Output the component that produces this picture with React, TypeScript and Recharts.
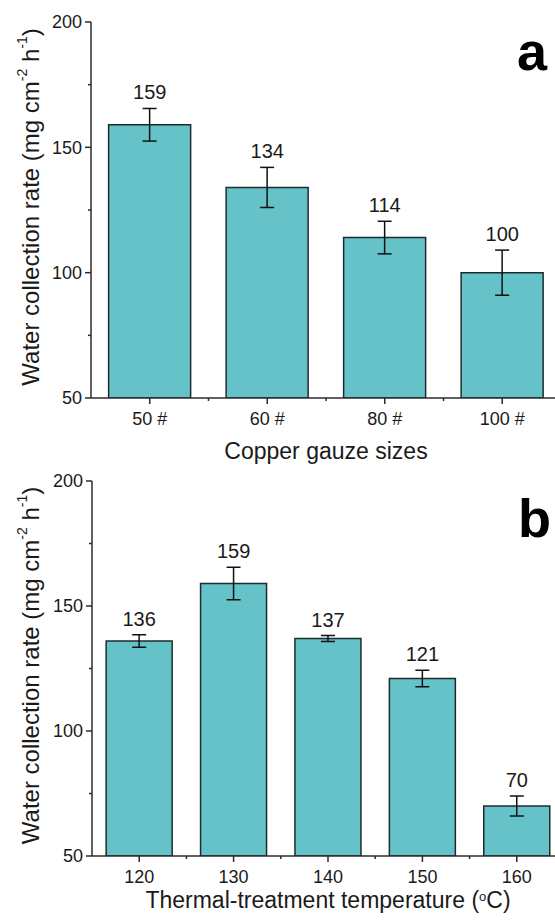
import React from "react";
import {
  BarChart,
  Bar,
  XAxis,
  YAxis,
  ErrorBar,
  ReferenceDot,
} from "recharts";

// panel a: copper gauze mesh
const gauzeSizes = ["50 #", "60 #", "80 #", "100 #"];
const gauzeRate = [159, 134, 114, 100];
const gauzeErr = [6.5, 8, 6.5, 9];

// panel b: thermal treatment
const temps = ["120", "130", "140", "150", "160"];
const tempRate = [136, 159, 137, 121, 70];
const tempErr = [2.5, 6.5, 1.2, 3.3, 4];

const yTicks = [50, 75, 100, 125, 150, 175, 200];
const yMajor = [50, 100, 150, 200];

const FONT = '"Liberation Sans", Arial, Helvetica, sans-serif';
const AXIS = "#2b2b2b";
const FILL = "#66c2c9";
const EDGE = "#1e2b2d";
const TEXT = "#1a1a1a";

const gauzeData = gauzeSizes.map((cat, i) => ({
  cat,
  rate: gauzeRate[i],
  err: gauzeErr[i],
}));
const tempData = temps.map((cat, i) => ({
  cat,
  rate: tempRate[i],
  err: tempErr[i],
}));

const YTick = (props: any) => {
  const { x, y, payload } = props;
  const major = yMajor.includes(payload.value);
  return (
    <g>
      <line
        x1={x}
        x2={x - (major ? 6 : 3)}
        y1={y}
        y2={y}
        stroke={AXIS}
        strokeWidth={1.5}
      />
      {major && (
        <text
          x={x - 9}
          y={y}
          dy="0.36em"
          textAnchor="end"
          fontSize={18}
          fontFamily={FONT}
          fill={TEXT}
        >
          {payload.value}
        </text>
      )}
    </g>
  );
};

const XTick = (props: any) => {
  const { x, y, payload } = props;
  const half = typeof payload.offset === "number" ? payload.offset : 0;
  return (
    <g>
      <line x1={x} x2={x} y1={y} y2={y + 6} stroke={AXIS} strokeWidth={1.5} />
      {half > 0 && (
        <line
          x1={x + half}
          x2={x + half}
          y1={y}
          y2={y + 3}
          stroke={AXIS}
          strokeWidth={1.5}
        />
      )}
      <text
        x={x}
        y={y + 27}
        textAnchor="middle"
        fontSize={18}
        fontFamily={FONT}
        fill={TEXT}
      >
        {payload.value}
      </text>
    </g>
  );
};

const YTitle = (props: any) => {
  const vb = props.viewBox || {};
  const cx = 30;
  const cy = vb.y + vb.height / 2 - 3;
  return (
    <text
      x={cx}
      y={cy}
      transform={`rotate(-90, ${cx}, ${cy})`}
      textAnchor="middle"
      dominantBaseline="central"
      fontSize={24}
      fontFamily={FONT}
      fill={TEXT}
    >
      Water collection rate (mg cm
      <tspan dy={-8} fontSize={14}>
        -2
      </tspan>
      <tspan dy={8}> h</tspan>
      <tspan dy={-8} fontSize={14}>
        -1
      </tspan>
      <tspan dy={8}>)</tspan>
    </text>
  );
};

const GauzeTitle = (props: any) => {
  const vb = props.viewBox || {};
  return (
    <text
      x={vb.x + vb.width / 2}
      y={vb.y + 61}
      textAnchor="middle"
      fontSize={23}
      fontFamily={FONT}
      fill={TEXT}
    >
      Copper gauze sizes
    </text>
  );
};

const CelsiusTitle = (props: any) => {
  const vb = props.viewBox || {};
  return (
    <text
      x={vb.x + vb.width / 2}
      y={vb.y + 52}
      textAnchor="middle"
      fontSize={23}
      fontFamily={FONT}
      fill={TEXT}
    >
      Thermal-treatment temperature (
      <tspan dy={-7} fontSize={13}>
        o
      </tspan>
      <tspan dy={7}>C)</tspan>
    </text>
  );
};

function Panel({
  data,
  width,
  height,
  margin,
  yWidth,
  xHeight,
  xLabel,
}: {
  data: { cat: string; rate: number; err: number }[];
  width: number;
  height: number;
  margin: { top: number; right: number; bottom: number; left: number };
  yWidth: number;
  xHeight: number;
  xLabel: any;
}) {
  return (
    <BarChart
      width={width}
      height={height}
      data={data}
      margin={margin}
      barCategoryGap="15%"
    >
      <XAxis
        dataKey="cat"
        height={xHeight}
        tickSize={0}
        tickMargin={0}
        tickLine={false}
        tick={<XTick />}
        axisLine={{ stroke: AXIS, strokeWidth: 1.5 }}
        interval={0}
        label={{ content: xLabel }}
      />
      <XAxis
        xAxisId="top"
        dataKey="cat"
        orientation="top"
        height={0}
        tick={false}
        tickLine={false}
        axisLine={{ stroke: AXIS, strokeWidth: 1.5 }}
      />
      <YAxis
        width={yWidth}
        domain={[50, 200]}
        ticks={yTicks}
        interval={0}
        allowDataOverflow
        tickSize={0}
        tickMargin={0}
        tickLine={false}
        tick={<YTick />}
        axisLine={{ stroke: AXIS, strokeWidth: 1.5 }}
        label={{ content: <YTitle /> }}
      />
      <Bar
        dataKey="rate"
        fill={FILL}
        stroke={EDGE}
        strokeWidth={1.5}
        isAnimationActive={false}
      >
        <ErrorBar
          dataKey="err"
          width={7}
          stroke="#111"
          strokeWidth={1.5}
          direction="y"
        />
      </Bar>
      {data.map((d) => (
        <ReferenceDot
          key={d.cat}
          x={d.cat}
          y={d.rate + d.err}
          r={0}
          fill="none"
          stroke="none"
          label={{
            value: String(d.rate),
            position: "top",
            offset: 9,
            fontSize: 20,
            fontFamily: FONT,
            fill: TEXT,
          }}
        />
      ))}
    </BarChart>
  );
}

export default function App() {
  return (
    <div
      style={{
        position: "absolute",
        left: 0,
        top: 0,
        width: 555,
        height: 922,
        overflow: "hidden",
        background: "#fff",
        fontFamily: FONT,
      }}
    >
      <div style={{ position: "absolute", left: 0, top: 0 }}>
        <Panel
          data={gauzeData}
          width={580}
          height={475}
          margin={{ top: 22, right: 19, bottom: 0, left: 0 }}
          yWidth={91}
          xHeight={77}
          xLabel={<GauzeTitle />}
        />
      </div>
      <div style={{ position: "absolute", left: 0, top: 460 }}>
        <Panel
          data={tempData}
          width={585}
          height={462}
          margin={{ top: 21, right: 21, bottom: 0, left: 0 }}
          yWidth={92}
          xHeight={66}
          xLabel={<CelsiusTitle />}
        />
      </div>
      <svg
        width={555}
        height={922}
        style={{ position: "absolute", left: 0, top: 0, pointerEvents: "none" }}
      >
        <text x={517} y={70} fontSize={54} fontWeight="bold" fontFamily={FONT} fill="#000">
          a
        </text>
        <text x={518} y={537} fontSize={54} fontWeight="bold" fontFamily={FONT} fill="#000">
          b
        </text>
      </svg>
    </div>
  );
}
